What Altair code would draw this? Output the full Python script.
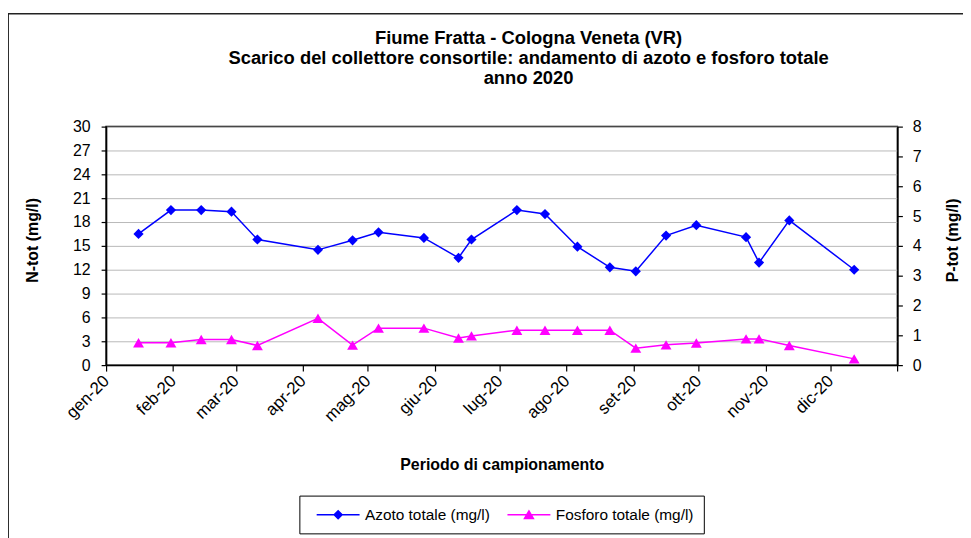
import altair as alt
import pandas as pd

# ---- data ----
dates = ["2020-01-16", "2020-01-31", "2020-02-14", "2020-02-28", "2020-03-11",
         "2020-04-08", "2020-04-24", "2020-05-06", "2020-05-27", "2020-06-12",
         "2020-06-18", "2020-07-09", "2020-07-22", "2020-08-06", "2020-08-21",
         "2020-09-02", "2020-09-16", "2020-09-30", "2020-10-23", "2020-10-29",
         "2020-11-12", "2020-12-12"]
azoto = [16.5, 19.5, 19.5, 19.3, 15.8, 14.5, 15.7, 16.7, 16.0, 13.5, 15.8,
         19.5, 19.0, 14.9, 12.3, 11.8, 16.3, 17.6, 16.1, 12.9, 18.2, 12.0]
fosforo = [0.75, 0.75, 0.86, 0.86, 0.66, 1.57, 0.67, 1.24, 1.24, 0.91, 0.98,
           1.17, 1.17, 1.17, 1.17, 0.57, 0.68, 0.74, 0.88, 0.88, 0.66, 0.21]
mesi = ["gen", "feb", "mar", "apr", "mag", "giu", "lug", "ago", "set", "ott", "nov", "dic"]
serie = ["Azoto totale (mg/l)", "Fosforo totale (mg/l)"]
colori = ["#0000FF", "#FF00FF"]
n_ticks = list(range(0, 31, 3))
p_ticks = list(range(0, 9))
titolo = ["Fiume Fratta - Cologna Veneta (VR)",
          "Scarico del collettore consortile: andamento di azoto e fosforo totale",
          "anno 2020"]

df = pd.DataFrame({"Data": dates, "Azoto": azoto, "Fosforo": fosforo})
legend_df = pd.DataFrame({"Serie": serie})
frame_df = pd.DataFrame({"f": [0]})

FONT = "Liberation Sans"

month_values = [alt.DateTime(year=2020, month=m, date=1, utc=True) for m in range(1, 13)]
month_values.append(alt.DateTime(year=2021, month=1, date=1, utc=True))
mesi_js = "[" + ",".join("'%s'" % m for m in mesi) + "]"

x_enc = alt.X(
    "Data:T",
    scale=alt.Scale(type="utc", nice=False,
                    domain=[alt.DateTime(year=2020, month=1, date=1, utc=True),
                            alt.DateTime(year=2021, month=1, date=1, utc=True)]),
    axis=alt.Axis(values=month_values,
                  labelExpr="utcyear(datum.value) > 2020 ? '' : " + mesi_js + "[utcmonth(datum.value)] + '-20'",
                  labelAngle=315, labelAlign="right", labelBaseline="middle",
                  labelPadding=7, tickSize=6, grid=False, labelFontSize=17,
                  title="Periodo di campionamento", titleY=100, titleBaseline="middle",
                  titleFontSize=16),
)

n_scale = alt.Scale(domain=[0, 30], nice=False, zero=True)
p_scale = alt.Scale(domain=[0, 8], nice=False, zero=True)

n_axis = alt.Axis(values=n_ticks, grid=True, tickSize=5, labelPadding=11,
                  title="N-tot (mg/l)", titleX=-74, titleY=114, titleAngle=270,
                  titleAlign="center", titleBaseline="middle")
p_axis = alt.Axis(values=p_ticks, grid=False, orient="right", tickSize=5, labelPadding=10,
                  title="P-tot (mg/l)", titleX=55, titleY=114, titleAngle=270,
                  titleAlign="center", titleBaseline="middle")

base = alt.Chart(df)

n_line = base.mark_line(color=colori[0], strokeWidth=1.5).encode(
    x=x_enc, y=alt.Y("Azoto:Q", scale=n_scale, axis=n_axis))
n_pts = base.mark_point(shape="diamond", filled=True, size=105, color=colori[0], opacity=1).encode(
    x=x_enc, y=alt.Y("Azoto:Q", scale=n_scale, axis=n_axis))
left = alt.layer(n_line, n_pts)

p_line = base.mark_line(color=colori[1], strokeWidth=1.5).encode(
    x=x_enc, y=alt.Y("Fosforo:Q", scale=p_scale, axis=p_axis))
p_pts = base.mark_point(shape="triangle-up", filled=True, size=120, color=colori[1], opacity=1).encode(
    x=x_enc, y=alt.Y("Fosforo:Q", scale=p_scale, axis=p_axis))
right = alt.layer(p_line, p_pts)

shape_paths = ["M-2.7,0L2.7,0M0,-0.5L0.5,0L0,0.5L-0.5,0Z",
               "M-2.7,0L2.7,0M0,-0.47L0.56,0.47L-0.56,0.47Z"]
leg = alt.Legend(orient="none", legendX=194.5, legendY=371.3, direction="horizontal", title=None)
legend_layer = alt.Chart(legend_df).mark_point(filled=True, strokeWidth=1.5, opacity=1).encode(
    fill=alt.Fill("Serie:N", scale=alt.Scale(domain=serie, range=colori), legend=leg),
    stroke=alt.Stroke("Serie:N", scale=alt.Scale(domain=serie, range=colori), legend=leg),
    shape=alt.Shape("Serie:N", scale=alt.Scale(domain=serie, range=shape_paths), legend=leg),
).transform_filter("false")

frame = alt.Chart(frame_df).mark_rect(fill="transparent", stroke="#222222", strokeWidth=1.5).encode(
    x=alt.value(-98.5), y=alt.value(-113.5), x2=alt.value(1200), y2=alt.value(800))

chart = alt.layer(frame, left, right, legend_layer).resolve_scale(
    y="independent"
).properties(
    width=796.3, height=240,
    autosize=alt.AutoSizeParams(type="none"),
    padding={"left": 98.7, "top": 117.7, "right": 66, "bottom": 172.3},
    title=alt.Title(titolo, font=FONT, fontSize=18.5, fontWeight="bold", color="black",
                    lineHeight=20, anchor="middle", dx=27, dy=111, offset=36),
).configure_view(
    stroke="black", strokeWidth=1.5
).configure_axis(
    labelFont=FONT, titleFont=FONT, labelFontSize=16, titleFontSize=16,
    titleFontWeight="bold", labelColor="black", titleColor="black",
    domainColor="black", domainWidth=1.5, tickColor="black", tickWidth=1.2,
    gridColor="#b8b8b8", gridWidth=1,
).configure_legend(
    labelFont=FONT, labelFontSize=15.5, labelColor="black",
    symbolSize=256, symbolStrokeWidth=1.5, strokeColor="black",
    padding=10, columnPadding=10, labelOffset=18, symbolOffset=20, fillColor="white",
)

chart.save("out.html", embed_options={"renderer": "svg", "actions": False})
